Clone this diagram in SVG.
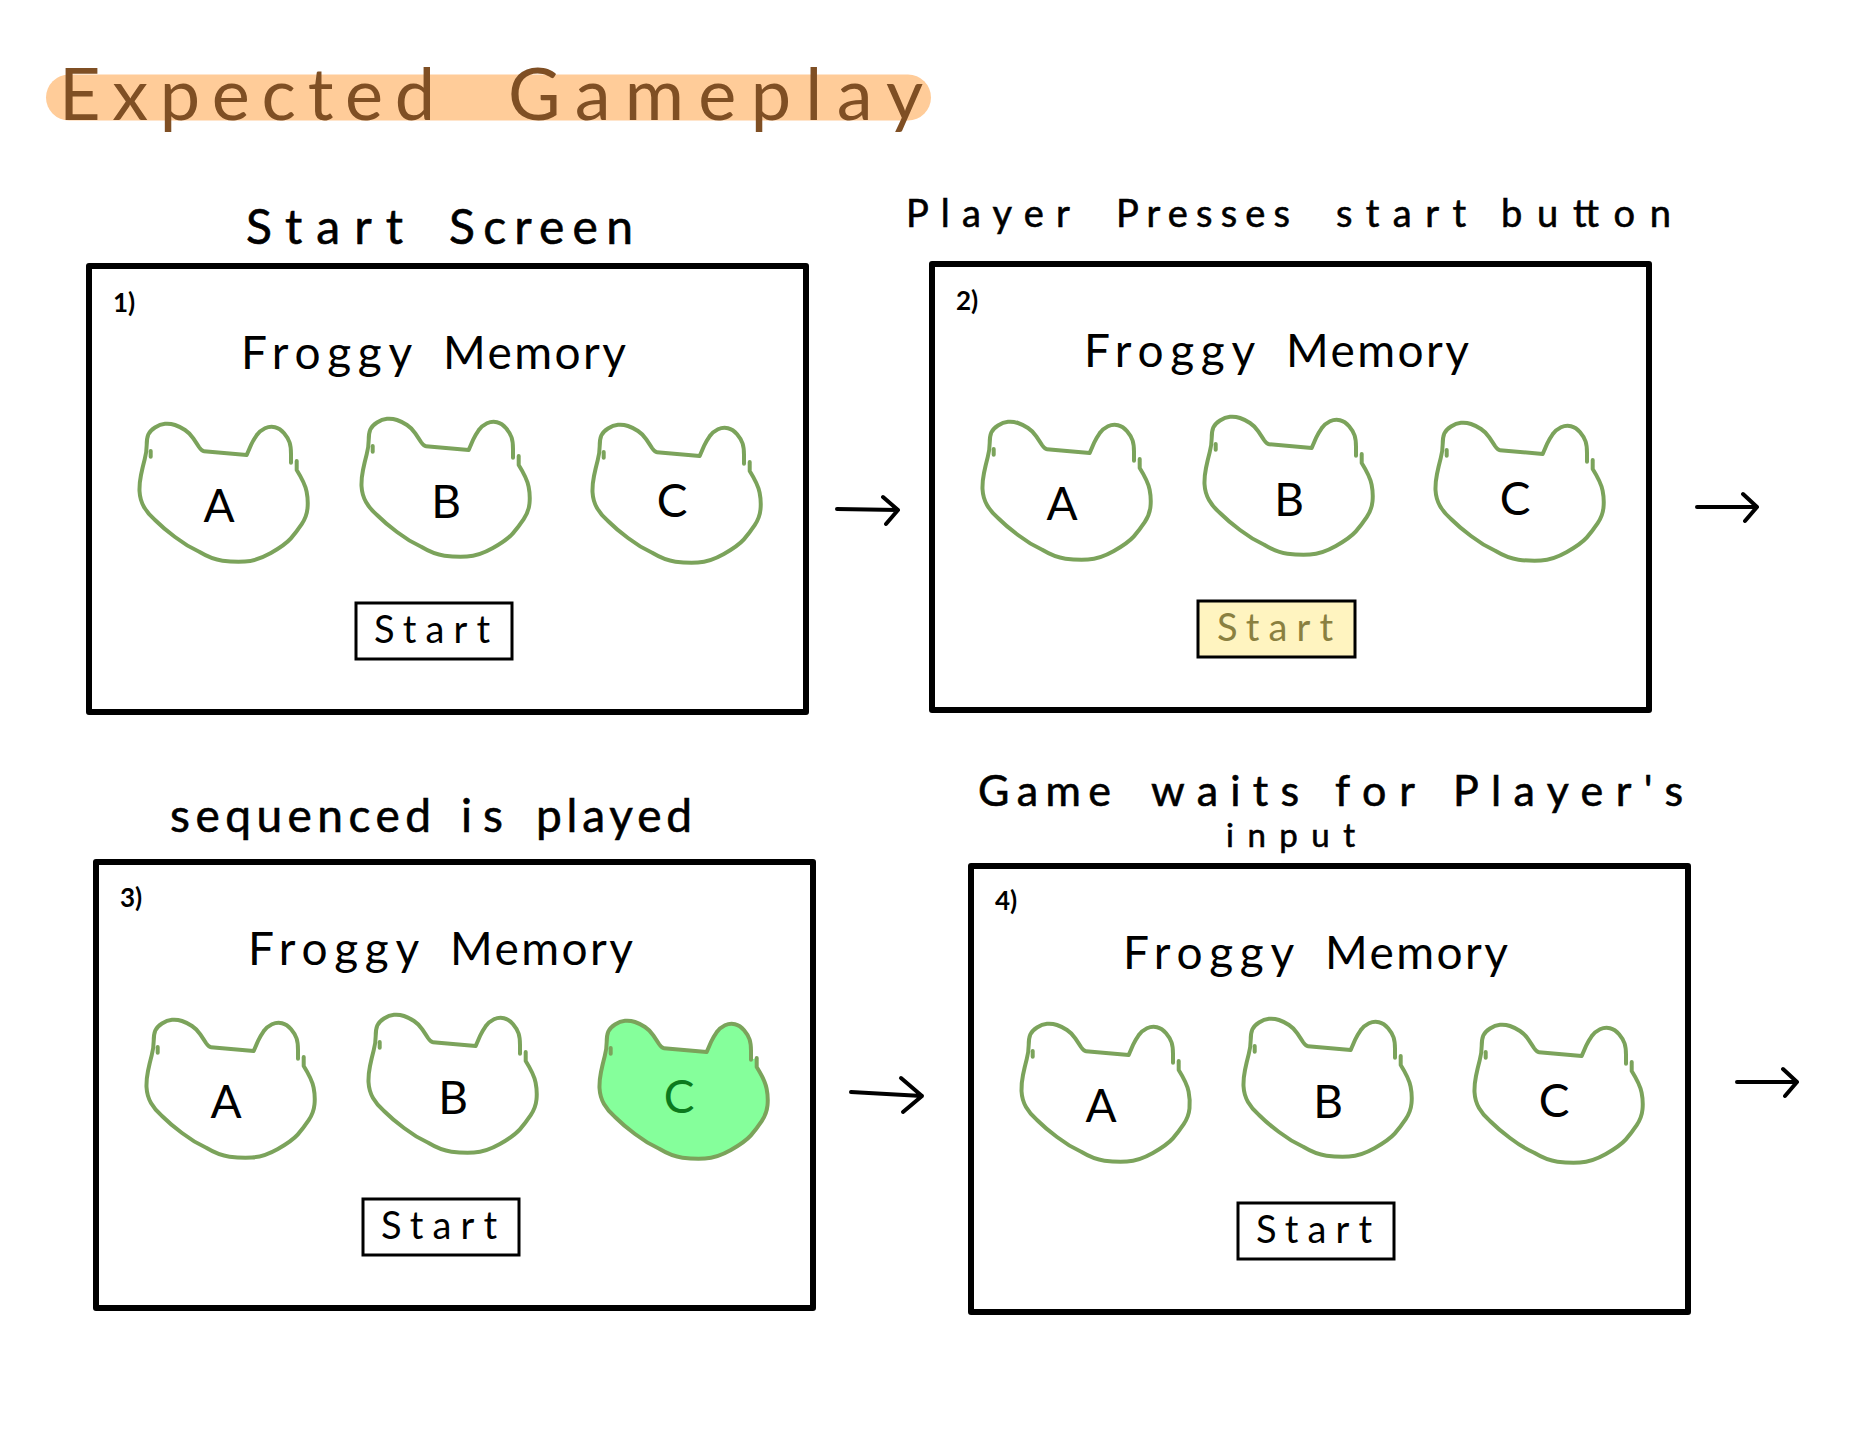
<svg xmlns="http://www.w3.org/2000/svg" xmlns:xlink="http://www.w3.org/1999/xlink" width="1852" height="1436" viewBox="0 0 1852 1436">
<style>
text{font-family:"Lato","Liberation Sans",sans-serif;fill:#000}
.frame{fill:#fff;stroke:#000;stroke-width:6;stroke-linejoin:round}
.btn{fill:#fff;stroke:#000;stroke-width:3}
.frog{fill:none;stroke:#7ba35b;stroke-width:4;stroke-linejoin:round;stroke-linecap:round}
.lab{font-size:46px;text-anchor:middle}
.name{font-size:46px}
.num{font-size:26px;font-weight:700}
.st{font-size:38px}
.hd{stroke:#000;stroke-width:.6}
.arrow{fill:none;stroke:#000;stroke-width:4;stroke-linecap:round;stroke-linejoin:round}
</style>
<defs>
<path id="f" d="M176.7 61L176.7 70Q185 83.3 186.6 91.6Q188.3 100 187.5 108.4Q186.7 116.7 181.7 124.2Q176.7 131.7 170.9 138.4Q165 145 150.9 153Q136.7 161 125 161.5Q113.3 162 102.5 160.7Q91.7 159.3 79.2 151.8Q66.7 146 55 137Q43.3 128.3 35 120Q28 114 24 107Q20 100 19.5 91Q19.3 83.3 21 75Q22.7 66.7 24.7 59.2Q26.7 51.7 26.7 45Q26.7 38.3 28.3 34.5Q30 30.7 35 27.5Q40 24.3 45 23.8Q50 23.3 55 25Q60 26.7 65 30Q70 33.3 73.3 38.3Q76.7 43.3 79 47Q81.7 51 84 51.2L126.7 55L131 45Q133.3 40 136.6 35.3Q140 30.7 145 28.3Q150 26 155 27.2Q160 28.3 164.1 33.3Q168.3 38.3 169.6 42.5Q171 46.7 171 54L171 62.7M30.7 51L30.7 56.7"/>
</defs>
<g id="title">
<rect x="46" y="74.5" width="885" height="46" rx="23" fill="#ffcc99"/>
<text y="120" font-size="72" style="fill:#7f4f24"><tspan x="59" textLength="376">Expected</tspan> <tspan x="508" textLength="415">Gameplay</tspan></text>
</g>
<g id="headers">
<text class="hd" y="244" font-size="48"><tspan x="246" textLength="157">Start</tspan> <tspan x="449" textLength="184">Screen</tspan></text>
<text class="hd" y="227" font-size="38"><tspan x="906" textLength="163">Player</tspan> <tspan x="1116" textLength="174">Presses</tspan> <tspan x="1336" textLength="130">start</tspan> <tspan x="1501" textLength="170">button</tspan></text>
<text class="hd" y="832" font-size="46"><tspan x="170" textLength="261">sequenced</tspan> <tspan x="461" textLength="42">is</tspan> <tspan x="536" textLength="156">played</tspan></text>
<text class="hd" y="806" font-size="43"><tspan x="978" textLength="133">Game</tspan> <tspan x="1151" textLength="148">waits</tspan> <tspan x="1335" textLength="79">for</tspan> <tspan x="1453" textLength="230">Player's</tspan></text>
<text class="hd" x="1226" y="847" font-size="33" textLength="129">input</text>
</g>
<g id="panel1">
<rect class="frame" x="89" y="266" width="717" height="446"/>
<text class="num" x="113" y="312">1)</text>
<text class="name" y="369"><tspan x="241" textLength="170">Froggy</tspan> <tspan x="443" textLength="183">Memory</tspan></text>
<g class="frog"><use xlink:href="#f" x="120" y="400"/></g><text class="lab" x="219" y="522">A</text>
<g class="frog"><use xlink:href="#f" x="342" y="395"/></g><text class="lab" x="446" y="518">B</text>
<g class="frog"><use xlink:href="#f" x="573" y="401"/></g><text class="lab" x="672" y="517">C</text>
<rect class="btn" x="356" y="603" width="156" height="56"/>
<text class="st" x="374" y="643" textLength="116">Start</text>
</g>
<g id="panel2" transform="translate(843,-2)">
<rect class="frame" x="89" y="266" width="717" height="446"/>
<text class="num" x="113" y="312">2)</text>
<text class="name" y="369"><tspan x="241" textLength="170">Froggy</tspan> <tspan x="443" textLength="183">Memory</tspan></text>
<g class="frog"><use xlink:href="#f" x="120" y="400"/></g><text class="lab" x="219" y="522">A</text>
<g class="frog"><use xlink:href="#f" x="342" y="395"/></g><text class="lab" x="446" y="518">B</text>
<g class="frog"><use xlink:href="#f" x="573" y="401"/></g><text class="lab" x="672" y="517">C</text>
<rect class="btn" x="355" y="603" width="157" height="56" style="fill:#fff4c0"/>
<text class="st" x="374" y="643" textLength="116" style="fill:#8a8040">Start</text>
</g>
<g id="panel3" transform="translate(7,596)">
<rect class="frame" x="89" y="266" width="717" height="446"/>
<text class="num" x="113" y="311">3)</text>
<text class="name" y="369"><tspan x="241" textLength="170">Froggy</tspan> <tspan x="443" textLength="183">Memory</tspan></text>
<g class="frog"><use xlink:href="#f" x="120" y="400"/></g><text class="lab" x="219" y="522">A</text>
<g class="frog"><use xlink:href="#f" x="342" y="395"/></g><text class="lab" x="446" y="518">B</text>
<g class="frog" style="fill:#85ff9b"><use xlink:href="#f" x="573" y="401"/></g><text class="lab" x="672" y="517" style="fill:#0b7a1e">C</text>
<rect class="btn" x="356" y="603" width="156" height="56"/>
<text class="st" x="374" y="643" textLength="116">Start</text>
</g>
<g id="panel4" transform="translate(882,600)">
<rect class="frame" x="89" y="266" width="717" height="446"/>
<text class="num" x="113" y="310">4)</text>
<text class="name" y="369"><tspan x="241" textLength="170">Froggy</tspan> <tspan x="443" textLength="183">Memory</tspan></text>
<g class="frog"><use xlink:href="#f" x="120" y="400"/></g><text class="lab" x="219" y="522">A</text>
<g class="frog"><use xlink:href="#f" x="342" y="395"/></g><text class="lab" x="446" y="518">B</text>
<g class="frog"><use xlink:href="#f" x="573" y="401"/></g><text class="lab" x="672" y="517">C</text>
<rect class="btn" x="356" y="603" width="156" height="56"/>
<text class="st" x="374" y="643" textLength="116">Start</text>
</g>
<g id="connectors" class="arrow">
<path d="M837 509L898 510M883 497L898 510L886 524"/>
<path d="M1697 507L1757 507M1743 494L1757 507L1745 521"/>
<path d="M851 1092L922 1096M901 1078L922 1096L903 1112"/>
<path d="M1737 1082L1797 1082M1783 1069L1797 1082L1785 1096"/>
</g>
</svg>
